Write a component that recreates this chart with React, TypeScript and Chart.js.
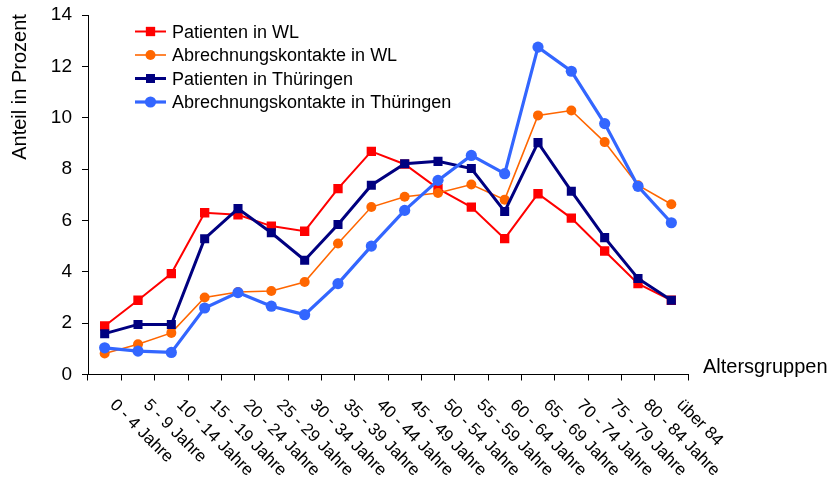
import React, { useEffect, useRef } from "react";
import { Chart, registerables } from "chart.js";

Chart.register(...registerables);

const categories = [
  "0 - 4 Jahre", "5 - 9 Jahre", "10 - 14 Jahre", "15 - 19 Jahre", "20 - 24 Jahre",
  "25 - 29 Jahre", "30 - 34 Jahre", "35 - 39 Jahre", "40 - 44 Jahre", "45 - 49 Jahre",
  "50 - 54 Jahre", "55 - 59 Jahre", "60 - 64 Jahre", "65 - 69 Jahre", "70 - 74 Jahre",
  "75 - 79 Jahre", "80 - 84 Jahre", "über 84",
];

const patientenWL = [1.89, 2.89, 3.93, 6.30, 6.22, 5.78, 5.58, 7.24, 8.69, 8.19, 7.24, 6.52, 5.29, 7.04, 6.09, 4.81, 3.54, 2.89];
const abrechnungWL = [0.82, 1.18, 1.62, 3.00, 3.21, 3.25, 3.60, 5.10, 6.52, 6.92, 7.07, 7.40, 6.81, 10.09, 10.28, 9.05, 7.37, 6.63];
const patientenTH = [1.59, 1.95, 1.95, 5.29, 6.46, 5.52, 4.45, 5.84, 7.37, 8.21, 8.30, 8.02, 6.35, 9.03, 7.14, 5.33, 3.74, 2.89];
const abrechnungTH = [1.04, 0.91, 0.86, 2.59, 3.19, 2.66, 2.33, 3.54, 5.00, 6.39, 7.56, 8.53, 7.82, 12.75, 11.81, 9.77, 7.33, 5.91];

const seriesNames = [
  "Patienten in WL",
  "Abrechnungskontakte in WL",
  "Patienten in Thüringen",
  "Abrechnungskontakte in Thüringen",
];

const yTitle = "Anteil in Prozent";
const xTitle = "Altersgruppen";

const FONT = "'Liberation Sans', Arial, sans-serif";

const decorPlugin = {
  id: "decor",
  afterDraw(chart: any) {
    const ctx = chart.ctx;
    const xs = chart.scales.x;
    const bottom = chart.chartArea.bottom;
    ctx.save();
    ctx.fillStyle = "#000";
    // rotated category labels
    ctx.font = `17px ${FONT}`;
    ctx.textAlign = "left";
    ctx.textBaseline = "middle";
    categories.forEach((lab, i) => {
      const x = xs.getPixelForValue(i);
      ctx.save();
      ctx.translate(x + 8, bottom + 28);
      ctx.rotate(Math.PI / 4);
      ctx.fillText(lab, 0, 0);
      ctx.restore();
    });
    // axis titles
    ctx.font = `20px ${FONT}`;
    ctx.textBaseline = "alphabetic";
    ctx.textAlign = "left";
    ctx.fillText(xTitle, 703, 373);
    ctx.save();
    ctx.translate(26, 87);
    ctx.rotate(-Math.PI / 2);
    ctx.textAlign = "center";
    ctx.fillText(yTitle, 0, 0);
    ctx.restore();
    // legend
    const rows = [31.5, 55, 78.5, 102];
    chart.data.datasets.forEach((ds: any, i: number) => {
      const y = rows[i];
      ctx.strokeStyle = ds.borderColor;
      ctx.lineWidth = ds.borderWidth;
      ctx.beginPath();
      ctx.moveTo(135, y);
      ctx.lineTo(166, y);
      ctx.stroke();
      ctx.fillStyle = ds.pointBackgroundColor;
      ctx.beginPath();
      if (ds.pointStyle === "rect") {
        const s = ds.pointRadius * Math.SQRT1_2;
        ctx.rect(150.5 - s, y - s, 2 * s, 2 * s);
      } else {
        ctx.arc(150.5, y, ds.pointRadius, 0, Math.PI * 2);
      }
      ctx.fill();
      ctx.fillStyle = "#000";
      ctx.font = `18px ${FONT}`;
      ctx.textAlign = "left";
      ctx.textBaseline = "alphabetic";
      ctx.fillText(seriesNames[i], 172, y + 6);
    });
    ctx.restore();
  },
};

export default function App() {
  const ref = useRef<HTMLCanvasElement | null>(null);
  useEffect(() => {
    if (!ref.current) return;
    const mk = (label: string, data: number[], color: string, width: number, style: string, radius: number, order: number) => ({
      label,
      data,
      borderColor: color,
      backgroundColor: color,
      pointBackgroundColor: color,
      pointBorderColor: color,
      pointBorderWidth: 0,
      borderWidth: width,
      pointStyle: style,
      pointRadius: radius,
      pointHoverRadius: radius,
      tension: 0,
      order,
    });
    const chart = new Chart(ref.current, {
      type: "line",
      data: {
        labels: categories,
        datasets: [
          mk(seriesNames[0], patientenWL, "#FF0000", 2, "rect", 6.6, 3),
          mk(seriesNames[1], abrechnungWL, "#FF6600", 1.6, "circle", 5, 2),
          mk(seriesNames[2], patientenTH, "#000080", 3, "rect", 6.4, 1),
          mk(seriesNames[3], abrechnungTH, "#3366FF", 3.2, "circle", 5.6, 0),
        ] as any,
      },
      options: {
        responsive: false,
        animation: false,
        layout: { padding: { left: 0, right: 143, top: 15, bottom: 0 } },
        plugins: { legend: { display: false }, tooltip: { enabled: false } },
        scales: {
          x: {
            type: "category",
            offset: true,
            grid: { offset: true, drawOnChartArea: false, drawTicks: true, tickLength: 6, color: "#000", lineWidth: 1 },
            border: { color: "#000", width: 1 },
            ticks: { display: false },
            afterFit: (s: any) => { s.height = 109.5; s.paddingLeft = 0; s.paddingRight = 0; },
          },
          y: {
            min: 0,
            max: 14,
            ticks: { stepSize: 2, color: "#000", padding: 10, font: { family: FONT, size: 19 } },
            grid: { drawOnChartArea: false, drawTicks: true, tickLength: 6, color: "#000", lineWidth: 1 },
            border: { color: "#000", width: 1 },
            afterFit: (s: any) => { s.width = 88; s.paddingTop = 0; s.paddingBottom = 0; },
          },
        },
      },
      plugins: [decorPlugin],
    });
    return () => chart.destroy();
  }, []);
  return (
    <div style={{ position: "fixed", left: 0, top: 0, width: 831, height: 484, background: "#fff" }}>
      <canvas ref={ref} width={831} height={484} />
    </div>
  );
}
